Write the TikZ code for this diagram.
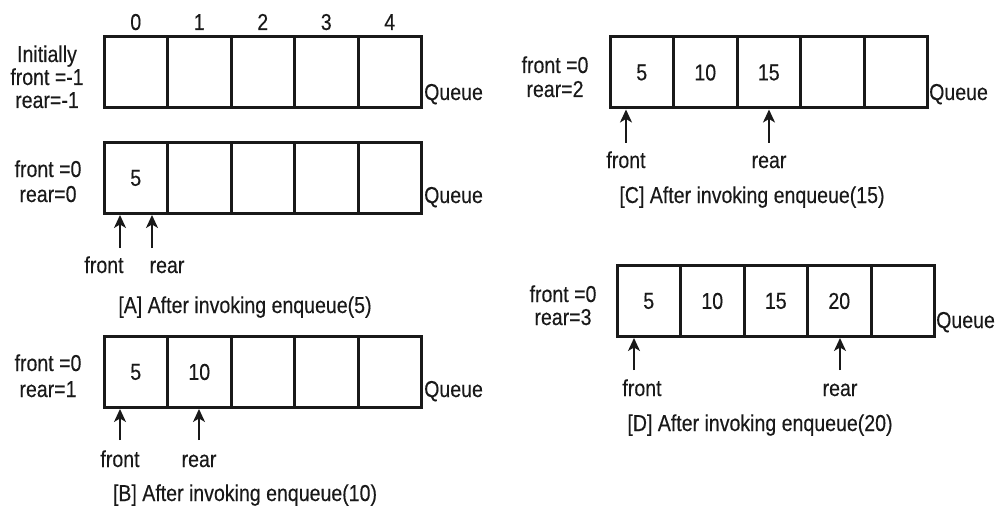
\documentclass[tikz,border=0pt]{standalone}
\usepackage{fontspec}
\setmainfont[FakeStretch=0.85,FakeBold=0.3]{Liberation Sans}
\usetikzlibrary{arrows.meta,calc}
\begin{document}
\begin{tikzpicture}[x=1pt,y=-1pt,
  txt/.style={font=\fontsize{23pt}{27pt}\selectfont,text=black!90},
  cell/.style={draw=black!90,line width=3pt,minimum width=63.5pt,minimum height=71pt,inner sep=0pt,txt},
  lbl/.style={inner sep=0pt,anchor=base,txt},
  qlbl/.style={inner sep=0pt,anchor=base west,txt},
  ptr/.style={-{Stealth[length=13pt,width=12pt,inset=3.5pt]},line width=1.5pt,black!90}]
\useasboundingbox (0,0) rectangle (996,508);

% ---------- Initial ----------
\foreach \i in {0,...,4}{
  \node[cell] (i\i) at ({104+63.5*(\i+0.5)},72.5) {};
  \node[lbl] (ix\i) at ({104+63.5*(\i+0.5)},30) {\i};
}
\node[lbl] (iinit) at (47,62) {Initially};
\node[lbl] (ifr) at (47,85) {front =-1};
\node[lbl] (ire) at (47,108) {rear=-1};
\node[qlbl] (iq) at (424,100) {Queue};

% ---------- A ----------
\node[cell] (a0) at ({104+63.5*0.5},178) {5};
\foreach \i in {1,...,4}{
  \node[cell] (a\i) at ({104+63.5*(\i+0.5)},178) {};
}
\node[lbl] (afr) at (48,177) {front =0};
\node[lbl] (are) at (48,202) {rear=0};
\node[qlbl] (aq) at (424,203) {Queue};
\coordinate (aft) at (120,248);
\coordinate (art) at (152,248);
\draw[ptr] (aft) -- (aft |- a0.south);
\draw[ptr] (art) -- (art |- a0.south);
\node[lbl] (aflbl) at (104,273) {front};
\node[lbl] (arlbl) at (167,273) {rear};
\node[lbl] (acap) at (245,313) {[A] After invoking enqueue(5)};

% ---------- B ----------
\node[cell] (b0) at ({104+63.5*0.5},372) {5};
\node[cell] (b1) at ({104+63.5*1.5},372) {10};
\foreach \i in {2,...,4}{
  \node[cell] (b\i) at ({104+63.5*(\i+0.5)},372) {};
}
\node[lbl] (bfr) at (48,371) {front =0};
\node[lbl] (bre) at (48,397) {rear=1};
\node[qlbl] (bq) at (424,397) {Queue};
\coordinate (bft) at (120,440);
\coordinate (brt) at (199,440);
\draw[ptr] (bft) -- (bft |- b0.south);
\draw[ptr] (brt) -- (brt |- b1.south);
\node[lbl] (bflbl) at (120,467) {front};
\node[lbl] (brlbl) at (199,467) {rear};
\node[lbl] (bcap) at (245,501) {[B] After invoking enqueue(10)};

% ---------- C ----------
\node[cell] (c0) at ({610+63.5*0.5},72.5) {5};
\node[cell] (c1) at ({610+63.5*1.5},72.5) {10};
\node[cell] (c2) at ({610+63.5*2.5},72.5) {15};
\node[cell] (c3) at ({610+63.5*3.5},72.5) {};
\node[cell] (c4) at ({610+63.5*4.5},72.5) {};
\node[lbl] (cfr) at (555,73) {front =0};
\node[lbl] (cre) at (555,97) {rear=2};
\node[qlbl] (cq) at (929,100) {Queue};
\coordinate (cft) at (626,143);
\coordinate (crt) at (769,143);
\draw[ptr] (cft) -- (cft |- c0.south);
\draw[ptr] (crt) -- (crt |- c2.south);
\node[lbl] (cflbl) at (626,168) {front};
\node[lbl] (crlbl) at (769,168) {rear};
\node[lbl] (ccap) at (752,203) {[C] After invoking enqueue(15)};

% ---------- D ----------
\node[cell] (d0) at ({617+63.5*0.5},301) {5};
\node[cell] (d1) at ({617+63.5*1.5},301) {10};
\node[cell] (d2) at ({617+63.5*2.5},301) {15};
\node[cell] (d3) at ({617+63.5*3.5},301) {20};
\node[cell] (d4) at ({617+63.5*4.5},301) {};
\node[lbl] (dfr) at (563,302) {front =0};
\node[lbl] (dre) at (563,325) {rear=3};
\node[qlbl] (dq) at (936,328) {Queue};
\coordinate (dft) at (634,370);
\coordinate (drt) at (840,370);
\draw[ptr] (dft) -- (dft |- d0.south);
\draw[ptr] (drt) -- (drt |- d3.south);
\node[lbl] (dflbl) at (642,396) {front};
\node[lbl] (drlbl) at (840,396) {rear};
\node[lbl] (dcap) at (760,431) {[D] After invoking enqueue(20)};
\end{tikzpicture}
\end{document}
